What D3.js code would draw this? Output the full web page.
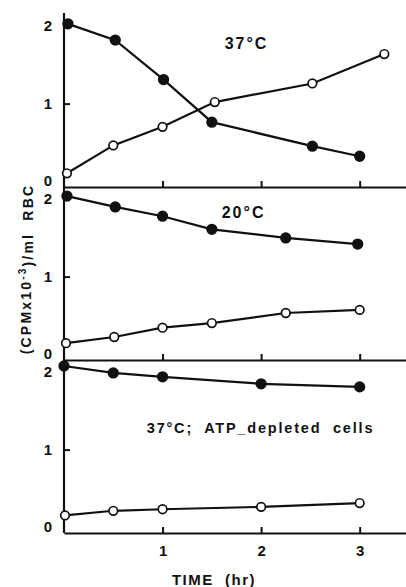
<!DOCTYPE html>
<html>
<head>
<meta charset="utf-8">
<script src="https://cdn.jsdelivr.net/npm/d3@7"></script>
<style>
  body { margin: 0; background: #fff; }
  text { font-family: "Liberation Sans", Arial, sans-serif; font-weight: bold; fill: #111; }
</style>
</head>
<body>
<svg id="chart" width="406" height="587"></svg>
<script>
const WIDTH = 406;
const AXIS_X = 64;
const PANEL_H = 174;
const PANEL_BOTTOMS = [187, 360, 533];

const panelLabels = ["37°C", "20°C", "37°C;  ATP_depleted  cells"];
const yTicks = [0, 1, 2];
const xTicks = [1, 2, 3];

// 37°C
const timeFilled37 = [0.04, 0.52, 1.01, 1.5, 2.52, 3.0];
const filled37 = [2.03, 1.82, 1.31, 0.76, 0.45, 0.32];
const timeOpen37 = [0.03, 0.5, 1.0, 1.53, 2.52, 3.25];
const open37 = [0.10, 0.46, 0.70, 1.02, 1.26, 1.64];

// 20°C
const timeFilled20 = [0.03, 0.52, 1.0, 1.5, 2.25, 2.98];
const filled20 = [2.04, 1.90, 1.78, 1.61, 1.50, 1.42];
const timeOpen20 = [0.02, 0.51, 1.0, 1.5, 2.25, 3.0];
const open20 = [0.14, 0.22, 0.34, 0.40, 0.53, 0.57];

// 37°C, ATP-depleted
const timeFilledATP = [0.0, 0.5, 1.0, 2.0, 3.0];
const filledATP = [2.08, 1.99, 1.94, 1.85, 1.81];
const timeOpenATP = [0.01, 0.5, 1.0, 2.0, 3.0];
const openATP = [0.15, 0.21, 0.23, 0.26, 0.31];

const panels = [
  { label: panelLabels[0], lx: 1.63, ly: 1.78, size: 16, spacing: 2,
    series: [[timeFilled37, filled37, true], [timeOpen37, open37, false]] },
  { label: panelLabels[1], lx: 1.6, ly: 1.83, size: 16, spacing: 2,
    series: [[timeFilled20, filled20, true], [timeOpen20, open20, false]] },
  { label: panelLabels[2], lx: 0.84, ly: 1.28, size: 14.5, spacing: 1.8,
    series: [[timeFilledATP, filledATP, true], [timeOpenATP, openATP, false]] },
];

const svg = d3.select('#chart');

const x = d3.scaleLinear().domain([0, 3.47]).range([AXIS_X, WIDTH]);

// the one long y axis line
svg.append('line')
  .attr('x1', AXIS_X).attr('x2', AXIS_X)
  .attr('y1', PANEL_BOTTOMS[0] - PANEL_H).attr('y2', PANEL_BOTTOMS[2])
  .attr('stroke', '#111').attr('stroke-width', 2.2);

panels.forEach((p, i) => {
  const bottom = PANEL_BOTTOMS[i];
  const y = d3.scaleLinear().domain([-0.077, 2.17]).range([bottom, bottom - PANEL_H]);
  const g = svg.append('g');

  // x axis, ticks pointing up
  const xa = g.append('g')
    .attr('transform', `translate(0,${bottom})`)
    .call(d3.axisBottom(x).tickValues(xTicks).tickSizeInner(-6).tickSizeOuter(0)
      .tickPadding(12).tickFormat(i === 2 ? d3.format('d') : ''));
  xa.select('.domain').attr('stroke', '#111').attr('stroke-width', 2.2);
  xa.selectAll('.tick line').attr('stroke', '#111').attr('stroke-width', 2);
  xa.selectAll('.tick text').attr('font-size', 15).attr('dy', '0.71em');

  // y axis labels, one tick at 1
  const ya = g.append('g')
    .attr('transform', `translate(${AXIS_X},0)`)
    .call(d3.axisLeft(y).tickValues(yTicks).tickSizeInner(-6).tickSizeOuter(0)
      .tickPadding(12).tickFormat(d3.format('d')));
  ya.select('.domain').remove();
  ya.selectAll('.tick line').attr('stroke', '#111').attr('stroke-width', 2)
    .filter(d => d !== 1).remove();
  ya.selectAll('.tick text').attr('font-size', 15);

  const line = d3.line().x(d => x(d[0])).y(d => y(d[1]));

  p.series.forEach(([times, vals, filled]) => {
    const pts = times.map((t, k) => [t, vals[k]]);
    g.append('path')
      .datum(pts)
      .attr('d', line)
      .attr('fill', 'none')
      .attr('stroke', '#111')
      .attr('stroke-width', 2.2);
    g.selectAll(null)
      .data(pts)
      .enter()
      .append('circle')
      .attr('cx', d => x(d[0]))
      .attr('cy', d => y(d[1]))
      .attr('r', filled ? 4.8 : 4.3)
      .attr('fill', filled ? '#111' : '#fff')
      .attr('stroke', '#111')
      .attr('stroke-width', 1.7);
  });

  g.append('text')
    .attr('x', x(p.lx))
    .attr('y', y(p.ly))
    .attr('dy', '0.35em')
    .attr('font-size', p.size)
    .attr('letter-spacing', p.spacing)
    .style('white-space', 'pre')
    .text(p.label);
});

// y axis title
const yTitle = svg.append('text')
  .attr('transform', 'translate(26,269) rotate(-90)')
  .attr('text-anchor', 'middle')
  .attr('dy', '0.35em')
  .attr('font-size', 14)
  .attr('letter-spacing', 2.2)
  .style('white-space', 'pre');
yTitle.append('tspan').text('(CPMx10');
yTitle.append('tspan').attr('dy', '-0.45em').attr('font-size', 10).text('-3');
yTitle.append('tspan').attr('dy', '0.45em').text(')/ml  RBC');

// x axis title
svg.append('text')
  .attr('x', 214)
  .attr('y', 580)
  .attr('dy', '0.35em')
  .attr('text-anchor', 'middle')
  .attr('font-size', 15)
  .attr('letter-spacing', 1.5)
  .style('white-space', 'pre')
  .text('TIME  (hr)');
</script>
</body>
</html>
